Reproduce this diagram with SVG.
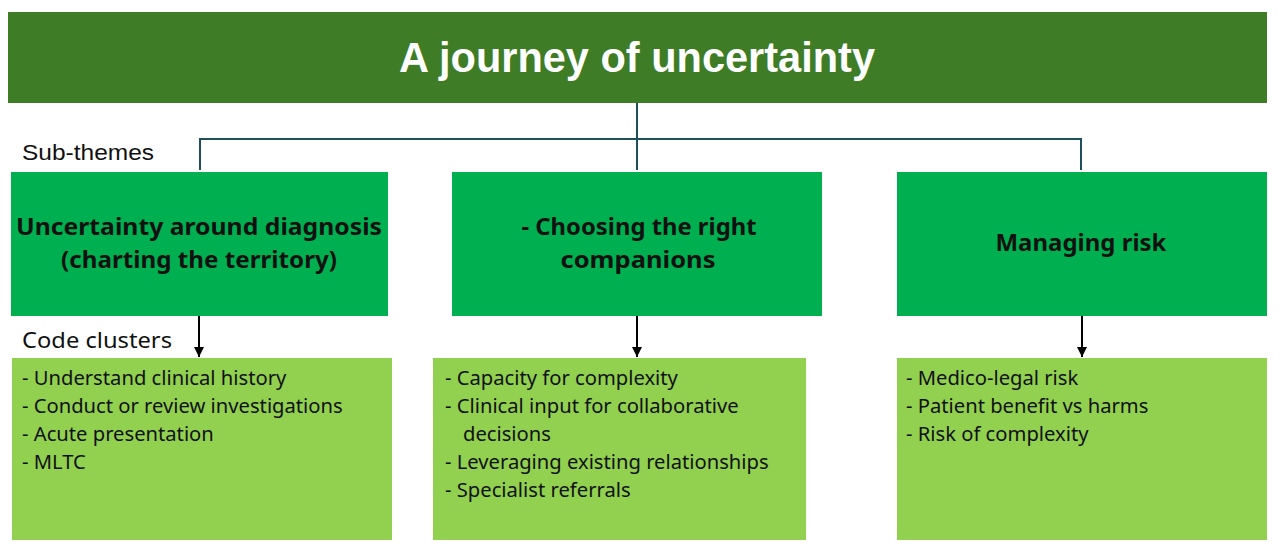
<svg xmlns="http://www.w3.org/2000/svg" width="1280" height="554" viewBox="0 0 1280 554">
<style>
.title{font-family:"Liberation Sans",Arial,sans-serif;font-weight:bold;font-size:43px;fill:#ffffff}
.sub{fill:#00b050}
.code{fill:#92d050}
.st{font-family:"Noto Sans","Open Sans",sans-serif;font-weight:bold;font-size:23px;fill:#111111}
.ct{font-family:"Noto Sans","Open Sans",sans-serif;font-size:20.2px;fill:#111111}
.lab{font-family:"Liberation Sans",Arial,sans-serif;font-size:22px;fill:#111111}
.tree{stroke:#1f4e5c;stroke-width:2;fill:none}
.arr{stroke:#000000;stroke-width:2;fill:none;marker-end:url(#ah)}
</style>
<defs>
<marker id="ah" viewBox="0 0 10 10" refX="10" refY="5" markerWidth="5" markerHeight="5" orient="auto" markerUnits="strokeWidth">
<path d="M0,0 L10,5 L0,10 z" fill="#000000"/>
</marker>
</defs>
<rect width="1280" height="554" fill="#ffffff"/>
<g id="title">
<rect x="8" y="12" width="1259" height="91" fill="#3e7c26"/>
<text class="title" x="637" y="72" text-anchor="middle" textLength="476" lengthAdjust="spacingAndGlyphs">A journey of uncertainty</text>
</g>
<g id="labels">
<text class="lab" x="22" y="160" textLength="132" lengthAdjust="spacingAndGlyphs">Sub-themes</text>
<text class="ct" style="font-size:22px" x="22" y="348" textLength="150" lengthAdjust="spacingAndGlyphs">Code clusters</text>
</g>
<g id="connectors">
<path class="tree" d="M637,103 V170 M200,170 V139 H1081 V170"/>
<line class="arr" x1="199" y1="316" x2="199" y2="357"/>
<line class="arr" x1="637" y1="316" x2="637" y2="357"/>
<line class="arr" x1="1082" y1="316" x2="1082" y2="357"/>
</g>
<g id="sub1">
<rect class="sub" x="11" y="172" width="377" height="144"/>
<text class="st" x="199" y="235" text-anchor="middle" textLength="366" lengthAdjust="spacingAndGlyphs">Uncertainty around diagnosis</text>
<text class="st" x="199" y="268" text-anchor="middle" textLength="276" lengthAdjust="spacingAndGlyphs">(charting the territory)</text>
</g>
<g id="sub2">
<rect class="sub" x="452" y="172" width="370" height="144"/>
<text class="st" x="639" y="235" text-anchor="middle" textLength="235" lengthAdjust="spacingAndGlyphs">- Choosing the right</text>
<text class="st" x="638" y="268" text-anchor="middle" textLength="155" lengthAdjust="spacingAndGlyphs">companions</text>
</g>
<g id="sub3">
<rect class="sub" x="897" y="172" width="370" height="144"/>
<text class="st" x="1081" y="251" text-anchor="middle" textLength="171" lengthAdjust="spacingAndGlyphs">Managing risk</text>
</g>
<g id="code1">
<rect class="code" x="12" y="358" width="380" height="182"/>
<text class="ct" x="22" y="385">- Understand clinical history</text>
<text class="ct" x="22" y="413">- Conduct or review investigations</text>
<text class="ct" x="22" y="441">- Acute presentation</text>
<text class="ct" x="22" y="469">- MLTC</text>
</g>
<g id="code2">
<rect class="code" x="433" y="358" width="373" height="182"/>
<text class="ct" x="445" y="385">- Capacity for complexity</text>
<text class="ct" x="445" y="413">- Clinical input for collaborative</text>
<text class="ct" x="463" y="441">decisions</text>
<text class="ct" x="445" y="469">- Leveraging existing relationships</text>
<text class="ct" x="445" y="497">- Specialist referrals</text>
</g>
<g id="code3">
<rect class="code" x="897" y="358" width="370" height="182"/>
<text class="ct" x="906" y="385">- Medico-legal risk</text>
<text class="ct" x="906" y="413">- Patient benefit vs harms</text>
<text class="ct" x="906" y="441">- Risk of complexity</text>
</g>
</svg>
